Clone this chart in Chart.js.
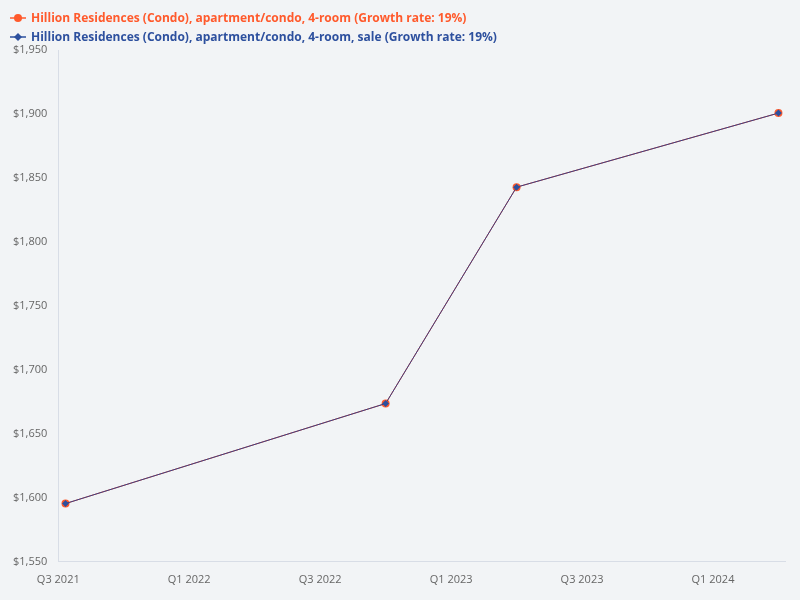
<!DOCTYPE html>
<html>
<head>
<meta charset="utf-8">
<script src="https://cdn.jsdelivr.net/npm/chart.js@4/dist/chart.umd.min.js"></script>
<style>
  body { margin: 0; background: #f2f4f6; font-family: "Open Sans", sans-serif; }
  #wrap { position: relative; width: 800px; height: 600px; }
  #legend { position: absolute; left: 10px; top: 8px; font-size: 12px; font-weight: bold; }
  .row { height: 19px; display: flex; align-items: center; }
  .row svg { margin-right: 5px; }
  canvas { position: absolute; left: 0; top: 0; }
</style>
</head>
<body>
<div id="wrap">
  <canvas id="chart" width="800" height="600"></canvas>
  <div id="legend"></div>
</div>
<script>
// months since Jan 2021
const dates = [6.33, 21, 27, 39];
const rentValues = [1595.5, 1673.7, 1842.8, 1900.7];
const saleValues = [1595.5, 1673.7, 1842.8, 1900.7];
const seriesNames = [
    'Hillion Residences (Condo), apartment/condo, 4-room (Growth rate: 19%)',
    'Hillion Residences (Condo), apartment/condo, 4-room, sale (Growth rate: 19%)'
];
const colors = ['#ff5a2c', '#2d509e'];

function quarterLabel(v) {
    const year = 2021 + Math.floor(v / 12);
    return (v % 12 === 0 ? 'Q1 ' : 'Q3 ') + year;
}

// html legend: small line with marker + colored bold text
const legend = document.getElementById('legend');
seriesNames.forEach((name, i) => {
    const marker = i === 0
        ? '<circle cx="8" cy="6" r="4" fill="' + colors[i] + '"/>'
        : '<polygon points="8,2 12,6 8,10 4,6" fill="' + colors[i] + '"/>';
    legend.innerHTML += '<div class="row" style="color:' + colors[i] + '">' +
        '<svg width="16" height="12"><line x1="0" y1="6" x2="16" y2="6" stroke="' + colors[i] + '" stroke-width="1.5"/>' +
        marker + '</svg>' + name + '</div>';
});

new Chart(document.getElementById('chart'), {
    type: 'scatter',
    data: {
        datasets: [
            {
                label: seriesNames[0],
                data: dates.map((d, i) => ({ x: d, y: rentValues[i] })),
                showLine: true,
                order: 2,
                borderColor: colors[0],
                borderWidth: 1,
                backgroundColor: colors[0],
                pointStyle: 'circle',
                pointRadius: 4,
                pointBorderWidth: 0
            },
            {
                label: seriesNames[1],
                data: dates.map((d, i) => ({ x: d, y: saleValues[i] })),
                showLine: true,
                order: 1,
                borderColor: '#3b3d82',
                borderWidth: 1,
                backgroundColor: colors[1],
                pointStyle: 'rectRot',
                pointRadius: 3.5,
                pointBorderWidth: 0
            }
        ]
    },
    options: {
        responsive: false,
        animation: false,
        layout: { padding: { top: 50, right: 15, left: 10, bottom: 11 } },
        plugins: { legend: { display: false }, tooltip: { enabled: false } },
        scales: {
            x: {
                type: 'linear',
                min: 6,
                max: 39.3,
                afterBuildTicks: axis => {
                    axis.ticks = [6, 12, 18, 24, 30, 36].map(v => ({ value: v }));
                },
                ticks: {
                    callback: v => quarterLabel(v),
                    color: '#666',
                    font: { family: 'Open Sans', size: 11 },
                    maxRotation: 0
                },
                grid: { display: false },
                border: { color: '#d8dde6' }
            },
            y: {
                min: 1550,
                max: 1950,
                ticks: {
                    stepSize: 50,
                    callback: v => '$' + v.toLocaleString('en-US'),
                    color: '#666',
                    font: { family: 'Open Sans', size: 11 }
                },
                grid: { display: false },
                border: { color: '#d8dde6' }
            }
        }
    }
});
</script>
</body>
</html>
